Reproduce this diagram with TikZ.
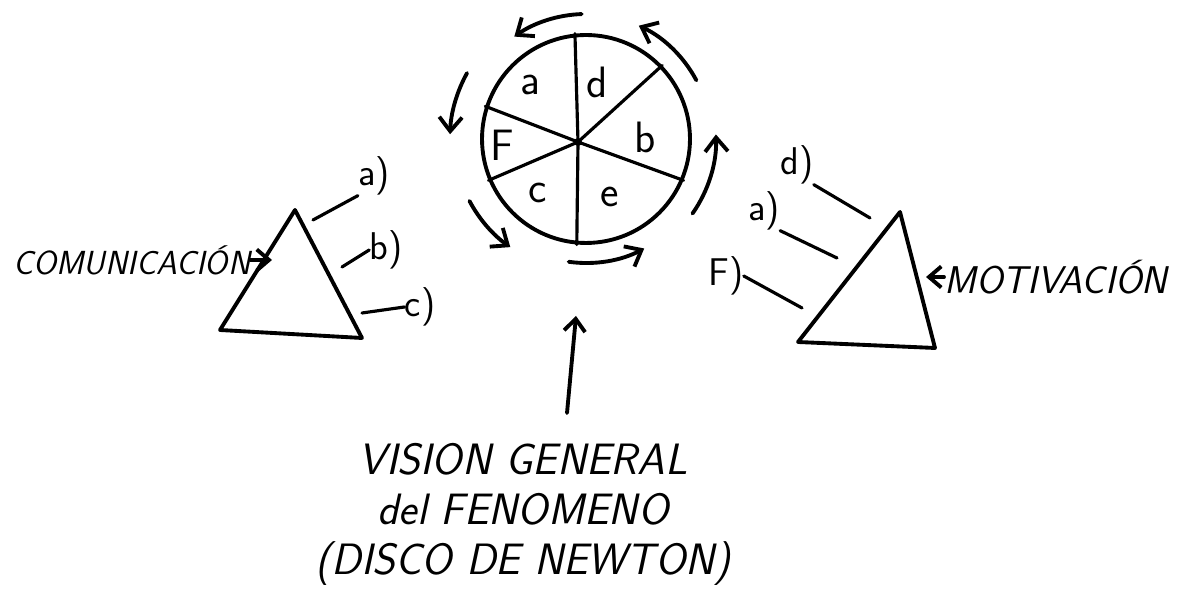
\documentclass[tikz,border=0pt]{standalone}
\usepackage{tikz}
\usetikzlibrary{arrows.meta, positioning, calc}

\tikzset{
  pen/.style={line width=2.2pt, line cap=round, line join=round},
  spoke/.style={line width=1.8pt, line cap=round},
  spin/.style={pen, -{Straight Barb[length=8pt, width=13pt]}},
  pointer/.style={pen, -{Straight Barb[length=7pt, width=12pt]}},
  sector/.style={font=\sffamily\fontsize{25}{27}\selectfont, inner sep=0pt},
  tick/.style={font=\sffamily\fontsize{22}{24}\selectfont, inner sep=0pt},
  hand/.style={font=\sffamily\slshape\fontsize{19}{22}\selectfont, inner sep=0pt},
  bighand/.style={font=\sffamily\slshape\fontsize{25}{28.5}\selectfont, inner sep=0pt, align=center},
}

\begin{document}
\begin{tikzpicture}[x=0.02cm, y=0.02cm]
  \useasboundingbox (0,0) rectangle (1196,597);

  % Newton disc
  \node[draw, pen, circle, minimum size=4.16cm, inner sep=0pt] (disc) at (586,458) {};
  \coordinate (hub) at (578,455);
  \foreach \ang in {96,44,-23,265,203,162}
    \draw[spoke] (hub) -- (disc.\ang);
  \fill (hub) circle (4);

  \node[sector] (sa) at (530,512) {a};
  \node[sector] (sd) at (597,515) {d};
  \node[sector] (sb) at (645,460) {b};
  \node[sector] (se) at (610,400) {e};
  \node[sector] (sc) at (538,404) {c};
  \node[sector] (sf) at (502,452) {F};

  % turning arrows
  \foreach \from/\to/\rad in {92/125/125, 151/178/136, 208/235/132, 262/298/124, 325/362/130, 28/65/125}
    \draw[spin] ([shift={(\from:\rad)}]disc.center) arc[start angle=\from, end angle=\to, radius=\rad];

  % left triangle
  \coordinate (lapex) at (295,387);
  \coordinate (lleft) at (220,267);
  \coordinate (lright) at (362,259);
  \draw[pen] (lapex) -- (lleft) -- (lright) -- cycle;

  \node[tick] (la) at (374,421) {a)};
  \node[tick] (lb) at (386,347) {b)};
  \node[tick] (lc) at (420,290) {c)};
  \coordinate (lta) at (313,377);
  \coordinate (ltb) at (342,330);
  \coordinate (ltc) at (362,284);
  \draw[spoke] (lta) -- (la.south west);
  \draw[spoke] (ltb) -- (lb.west);
  \draw[spoke] (ltc) -- (lc.west);

  \node[hand, anchor=west] (comm) at (13,337) {COMUNICACIÓN};
  \coordinate (commtip) at (272,337);
  \draw[pointer] (comm.east) -- (commtip);

  % right triangle
  \coordinate (rapex) at (900,385);
  \coordinate (rleft) at (798,255);
  \coordinate (rright) at (935,249);
  \draw[pen] (rapex) -- (rleft) -- (rright) -- cycle;

  \node[tick] (rd) at (797,432) {d)};
  \node[tick] (ra) at (764,386) {a)};
  \node[tick] (rf) at (726,321) {F)};
  \coordinate (rtd) at (870,379);
  \coordinate (rta) at (837,339);
  \coordinate (rtf) at (802,289);
  \draw[spoke] (rtd) -- (rd.south east);
  \draw[spoke] (rta) -- (ra.south east);
  \draw[spoke] (rtf) -- (rf.east);

  \node[hand, font=\sffamily\slshape\fontsize{22}{24}\selectfont, anchor=west] (motiv) at (944,320) {MOTIVACIÓN};
  \coordinate (motivtip) at (926,320);
  \draw[pointer] (motiv.west) -- (motivtip);

  % caption
  \node[bighand] (vision) at (523,83) {VISION GENERAL\\del FENOMENO\\(DISCO DE NEWTON)};
  \coordinate (visiontail) at (567,184);
  \coordinate (visiontip) at (576,281);
  \draw[pointer] (visiontail) -- (visiontip);
\end{tikzpicture}
\end{document}
